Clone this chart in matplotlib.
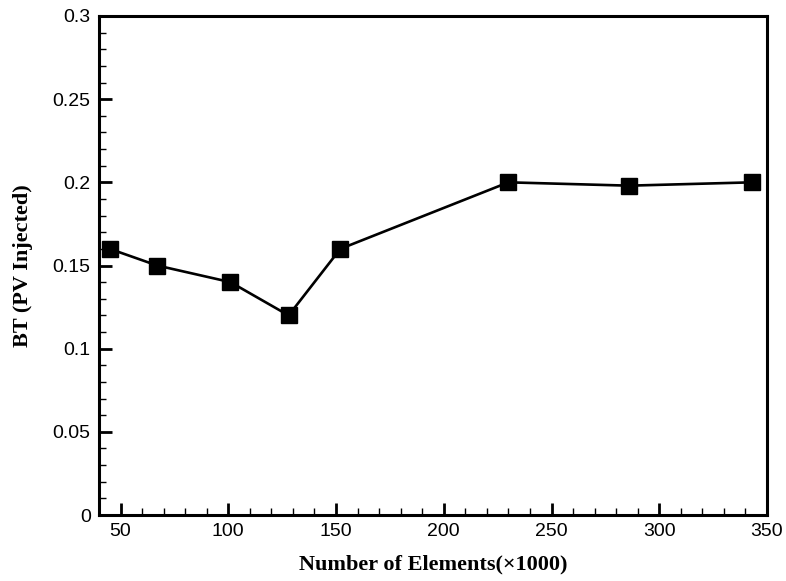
import numpy as np
import matplotlib
matplotlib.use('Agg')
import matplotlib.pyplot as plt
from matplotlib.ticker import MultipleLocator

# mesh size (thousands of elements) vs breakthrough time
elements = [45, 67, 101, 128, 152, 230, 286, 343]
bt_pv = [0.16, 0.15, 0.14, 0.12, 0.16, 0.20, 0.198, 0.20]

fig = plt.figure(figsize=(7.86, 5.81), dpi=100)
ax = fig.add_axes([99/786, 66/581, 668/786, 499/581])

ax.plot(elements, bt_pv, color='black', linewidth=1.9,
        marker='s', markersize=11.5, markerfacecolor='black',
        markeredgecolor='black')

ax.set_xlim(40, 350)
ax.set_ylim(0, 0.3)
ax.xaxis.set_major_locator(MultipleLocator(50))
ax.xaxis.set_minor_locator(MultipleLocator(10))
ax.yaxis.set_major_locator(MultipleLocator(0.05))
ax.yaxis.set_minor_locator(MultipleLocator(0.01))
ax.set_yticks([0, 0.05, 0.1, 0.15, 0.2, 0.25, 0.3])
ax.set_yticklabels(['0', '0.05', '0.1', '0.15', '0.2', '0.25', '0.3'])

for s in ax.spines.values():
    s.set_linewidth(2.2)

ax.tick_params(which='major', direction='in', length=9, width=2.0,
               labelsize=14, pad=6, top=False, right=False)
ax.tick_params(which='minor', direction='in', length=5, width=1.0,
               top=False, right=False)
for lab in ax.get_xticklabels() + ax.get_yticklabels():
    lab.set_fontfamily('Liberation Sans')

ax.set_xlabel('Number of Elements(\u00d71000)', fontfamily='Liberation Serif',
              fontweight='bold', fontsize=16, labelpad=10)
ax.set_ylabel('BT (PV Injected)', fontfamily='Liberation Serif',
              fontweight='bold', fontsize=16, labelpad=14)

fig.savefig('out.png', dpi=100)
